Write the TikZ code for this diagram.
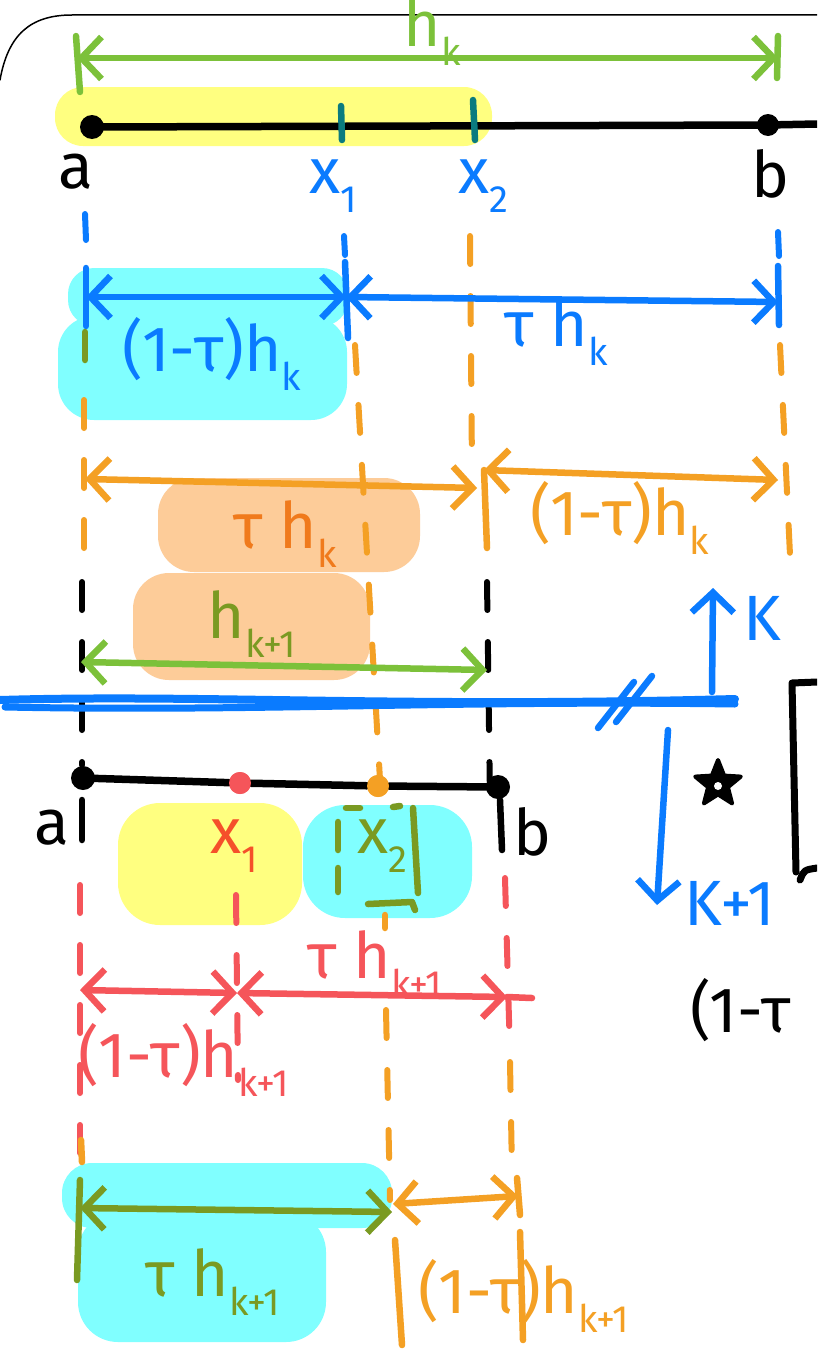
\documentclass[tikz,border=0pt]{standalone}
\usepackage{fontspec}
\setmainfont{Fira Sans}
\usetikzlibrary{arrows.meta,shapes.geometric}
\definecolor{cgreen}{HTML}{7CC13A}
\definecolor{cblue}{HTML}{0A7BFF}
\definecolor{corange}{HTML}{F4A024}
\definecolor{cdorange}{HTML}{F07A1C}
\definecolor{cred}{HTML}{F5555A}
\definecolor{cxred}{HTML}{F5502A}
\definecolor{colive}{HTML}{7A9A22}
\definecolor{cteal}{HTML}{0B7B7F}
\definecolor{hyellow}{HTML}{FFFF80}
\definecolor{hcyan}{HTML}{80FFFF}
\definecolor{hpeach}{HTML}{FDCC99}
\newcommand\lbl{\fontsize{64}{68}\selectfont}
\newcommand\sbs[1]{\raisebox{-0.3em}{\fontsize{38}{40}\selectfont #1}}
\begin{document}
\begin{tikzpicture}[x=1pt,y=-1pt,line cap=round,line join=round,
  >={Straight Barb[length=20pt,width=42pt]},
  pen/.style={line width=6.5pt},
  dsh/.style={line width=6pt,dash pattern=on 28pt off 32pt},
  lab/.style={font=\lbl,inner sep=0pt},
  dotn/.style={circle,inner sep=0pt,minimum size=24pt}]
\useasboundingbox (0,0) rectangle (817,1354);
\clip (0,0) rectangle (817,1354);
\fill[white] (0,0) rectangle (817,1354);
% frame
\draw[line width=1.5pt] (0,80) .. controls (8,35) and (30,15) .. (72,15) -- (817,15);

% ---------- highlights ----------
\fill[hyellow,rounded corners=28pt] (55,87) rectangle (492,146);
\fill[hcyan,rounded corners=26pt] (68,268) rectangle (348,326);
\fill[hcyan,rounded corners=36pt] (58,316) rectangle (347,420);
\fill[hpeach,rounded corners=36pt] (158,478) rectangle (420,572);
\fill[hpeach,rounded corners=36pt] (133,573) rectangle (370,680);
\fill[hyellow,rounded corners=42pt] (118,803) rectangle (302,925);
\fill[hcyan,rounded corners=42pt] (303,805) rectangle (472,918);
\fill[hcyan,rounded corners=30pt] (62,1163) rectangle (392,1228);
\fill[hcyan,rounded corners=40pt] (78,1212) rectangle (326,1342);

% ---------- top interval ----------
\coordinate (hkL) at (77,58);
\coordinate (hkR) at (778,58);
\draw[cgreen,pen,<->] (hkL) -- (hkR);
\draw[cgreen,pen] (76,36) -- (80,92);
\draw[cgreen,pen] (778,36) -- (777,78);
\node[lab,text=cgreen] (hk) at (432,32) {h\sbs{k}};

\node[dotn,fill=black] (A1) at (92,127) {};
\node[dotn,fill=black,minimum size=22pt] (B1) at (768,125) {};
\coordinate (E1) at (817,124);
\draw[line width=7.5pt] (A1.center) -- (B1.center) -- (E1);
\draw[cteal,pen] (341,106) -- (342,140);
\draw[cteal,pen] (473,100) -- (475,140);
\node[lab] (la1) at (76,172) {a};
\node[lab,text=cblue] (lx1) at (333,186) {x\sbs{1}};
\node[lab,text=cblue] (lx2) at (483,186) {x\sbs{2}};
\node[lab] (lb1) at (770,174) {b};

% ---------- vertical guide lines (upper) ----------
\draw[cblue,dsh] (85,214) -- (86,240);
\draw[cblue,pen] (86,268) -- (86,326);
\draw[colive,pen] (85,332) -- (85,360);
\draw[corange,dsh] (84,400) -- (84,560);
\draw[black,dsh] (82,582) -- (82,765);

\draw[cblue,dsh] (344,236) -- (345,255);
\draw[cblue,pen] (345,262) -- (348,338);
\draw[corange,dsh] (355,345) -- (380,780);

\draw[corange,dsh] (470,236) -- (472,470);
\draw[corange,pen] (484,470) -- (487,548);
\draw[black,dsh] (487,582) -- (490,800);

\draw[cblue,dsh] (778,232) -- (779,256);
\draw[cblue,pen] (778,266) -- (779,325);
\draw[corange,dsh] (780,345) -- (790,555);

% ---------- blue dimension ----------
\coordinate (bA) at (86,297);
\coordinate (bX) at (346,297);
\coordinate (bB) at (778,302);
\draw[cblue,pen,<->] (bA) -- (bX);
\draw[cblue,pen,<->] (bX) -- (bB);
\node[lab,text=cblue] (l1) at (212,354) {(1-τ)h\sbs{k}};
\node[lab,text=cblue] (l2) at (556,332) {τ h\sbs{k}};

% ---------- orange dimension ----------
\coordinate (oA) at (85,479);
\coordinate (oX) at (477,488);
\coordinate (oX2) at (484,470);
\coordinate (oB) at (778,480);
\draw[corange,pen,<->] (oA) -- (oX);
\draw[corange,pen,<->] (oX2) -- (oB);
\node[lab,text=cdorange] (l3) at (285,534) {τ h\sbs{k}};
\node[lab,text=corange] (l4) at (620,518) {(1-τ)h\sbs{k}};
\node[lab,text=colive] (l5) at (252,624) {h\sbs{k+1}};

% ---------- green h_{k+1} ----------
\coordinate (gA) at (81,662);
\coordinate (gB) at (487,670);
\draw[cgreen,pen,<->] (gA) -- (gB);

% ---------- blue separator ----------
\draw[cblue,line width=8pt] (0,700) .. controls (200,694) and (400,708) .. (735,699);
\draw[cblue,line width=7pt] (5,707) .. controls (250,712) and (450,700) .. (735,704);
\draw[cblue,pen] (598,728) -- (634,682);
\draw[cblue,pen] (616,722) -- (652,676);
\coordinate (kU0) at (712,692);
\coordinate (kU1) at (713,588);
\draw[cblue,pen,->] (kU0) -- (kU1);
\node[lab,text=cblue] (lk) at (762,618) {K};
\coordinate (kD0) at (668,730);
\coordinate (kD1) at (657,905);
\draw[cblue,pen,->] (kD0) -- (kD1);
\node[lab,text=cblue] (lk1) at (730,903) {K+1};

\node[star,star points=5,star point ratio=2.3,draw,fill=black,line width=4pt,minimum size=48pt,inner sep=0pt] (st) at (718,784) {};
\fill[white] (718,786) circle (4pt);
\draw[line width=7pt] (817,682) -- (792,683) -- (796,872);
\draw[line width=7pt] (800,880) .. controls (804,870) .. (817,868);
\node[lab,anchor=west] (lc) at (690,1010) {(1-τ};

% ---------- lower interval ----------
\node[dotn,fill=black] (A2) at (83,778) {};
\node[dotn,fill=cred,minimum size=22pt] (X1) at (240,783) {};
\node[dotn,fill=corange,minimum size=22pt] (X2) at (378,786) {};
\node[dotn,fill=black] (B2) at (498,787) {};
\draw[line width=7.5pt] (A2.center) -- (X1) -- (X2) -- (B2.center);
\fill[cred] (240,783) circle (11pt);
\fill[corange] (378,786) circle (11pt);
\draw[black,pen] (82,800) -- (82,840);
\draw[black,pen] (500,800) -- (502,850);
\node[lab] (la2) at (52,828) {a};
\node[lab] (lb2) at (533,832) {b};
\node[lab,text=cxred] (lx1b) at (234,846) {x\sbs{1}};
\node[lab,text=colive] (lx2b) at (382,846) {x\sbs{2}};
\draw[colive,pen] (346,808) -- (360,808);
\draw[colive,pen] (338,822) -- (338,850);
\draw[colive,pen] (338,868) -- (338,892);
\draw[colive,pen] (393,807) -- (400,806);
\draw[colive,pen] (413,808) -- (418,893);
\draw[colive,pen] (368,904) -- (412,902) -- (415,910);
\draw[corange,pen] (385,915) -- (385,928);

% red guides and dims
\draw[cred,dsh] (80,885) -- (80,1160);
\draw[cred,dsh] (236,895) -- (238,1080);
\draw[cred,dsh] (505,878) -- (510,1055);
\coordinate (rA) at (80,990);
\coordinate (rX) at (237,993);
\coordinate (rB) at (507,997);
\coordinate (rE) at (532,998);
\draw[cred,pen,<->] (rA) -- (rX);
\draw[cred,pen,<->] (rX) -- (rB);
\draw[cred,pen] (rB) -- (rE);
\node[lab,text=cred] (l6) at (375,964) {τ h\sbs{k+1}};
\node[lab,text=cred] (l7) at (184,1060) {(1-τ)h\sbs{k+1}};

% orange guides lower
\draw[corange,dsh] (386,1010) -- (390,1200);
\draw[corange,dsh] (510,1062) -- (512,1172);
\draw[corange,pen] (81,1140) -- (82,1162);
\draw[colive,pen] (80,1180) -- (77,1280);
\draw[corange,pen] (395,1240) -- (402,1345);
\draw[corange,pen] (520,1232) -- (523,1340);
\draw[corange,pen] (517,1178) -- (520,1215);

% bottom dims
\coordinate (cA) at (80,1208);
\coordinate (cX) at (392,1212);
\coordinate (cX2) at (393,1204);
\coordinate (cB) at (518,1196);
\draw[colive,pen,<->] (cA) -- (cX);
\draw[corange,pen,<->] (cX2) -- (cB);
\node[lab,text=colive] (l8) at (213,1282) {τ h\sbs{k+1}};
\node[lab,text=corange] (l9) at (524,1296) {(1-τ)h\sbs{k+1}};
\end{tikzpicture}
\end{document}
